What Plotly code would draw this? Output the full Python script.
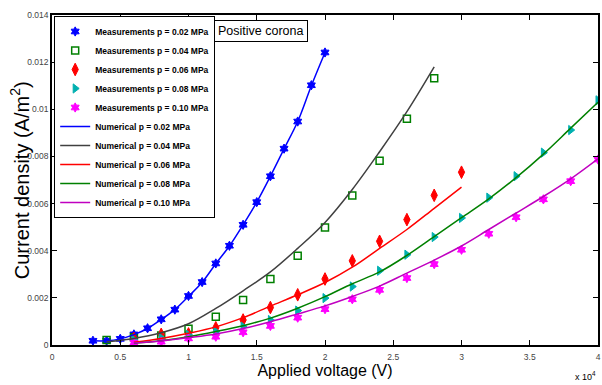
import plotly.graph_objects as go

# ---------------- data ----------------
x_m02 = [3000, 4000, 5000, 6000, 7000, 8000, 9000, 10000, 11000, 12000, 13000, 14000,
         15000, 16000, 17000, 18000, 19000, 20000]
y_m02 = [0.00018, 0.00018, 0.00026, 0.00045, 0.00071, 0.00109, 0.0015, 0.00208, 0.00267,
         0.00346, 0.00421, 0.0051, 0.00606, 0.00716, 0.00833, 0.00948, 0.01102, 0.01241]

x_m04 = [4000, 6000, 8000, 10000, 12000, 14000, 16000, 18000, 20000, 22000, 24000, 26000, 28000]
y_m04 = [0.00021, 0.00033, 0.0004, 0.00069, 0.0012, 0.00191, 0.0028, 0.00379, 0.00499,
         0.00634, 0.00782, 0.0096, 0.01132]

x_m06 = [6000, 8000, 10000, 12000, 14000, 16000, 18000, 20000, 22000, 24000, 26000, 28000, 30000]
y_m06 = [0.00028, 0.00045, 0.00047, 0.00073, 0.00106, 0.00159, 0.00213, 0.0028, 0.00357,
         0.0044, 0.00532, 0.00635, 0.00733]

x_m08 = [6000, 8000, 10000, 12000, 14000, 16000, 18000, 20000, 22000, 24000, 26000, 28000,
         30000, 32000, 34000, 36000, 38000, 40000]
y_m08 = [0.00022, 0.0003, 0.00043, 0.00057, 0.00078, 0.00106, 0.00146, 0.00199, 0.00248,
         0.00315, 0.00383, 0.00458, 0.00539, 0.00625, 0.00716, 0.00816, 0.00912, 0.01038]

x_m10 = [6000, 8000, 10000, 12000, 14000, 16000, 18000, 20000, 22000, 24000, 26000, 28000,
         30000, 32000, 34000, 36000, 38000, 40000]
y_m10 = [0.0001, 0.00014, 0.00028, 0.00035, 0.00054, 0.00081, 0.00116, 0.00152, 0.00194,
         0.00234, 0.00284, 0.00343, 0.00404, 0.00472, 0.00542, 0.00618, 0.00695, 0.00787]

x_n02 = [3000, 4000, 5000, 6000, 7000, 8000, 9000, 10000, 11000, 12000, 13000, 14000,
         15000, 16000, 17000, 18000, 19000, 20000]
y_n02 = [0.00018, 0.00018, 0.00026, 0.00044, 0.0007, 0.00108, 0.0015, 0.00206, 0.00266,
         0.00345, 0.0042, 0.0051, 0.00606, 0.00716, 0.00832, 0.00948, 0.011, 0.01241]

x_n04 = [4000, 6000, 8000, 10000, 12000, 14000, 16000, 18000, 20000, 22000, 24000, 26000, 28000]
y_n04 = [0.00014, 0.00028, 0.00052, 0.0009, 0.00155, 0.0023, 0.0031, 0.0041, 0.0052,
         0.0066, 0.0082, 0.0099, 0.0118]

x_n06 = [6000, 8000, 10000, 12000, 14000, 16000, 18000, 20000, 22000, 24000, 26000, 28000, 30000]
y_n06 = [0.00012, 0.00028, 0.0005, 0.00077, 0.00116, 0.00165, 0.00213, 0.00265, 0.0033,
         0.0041, 0.0049, 0.0058, 0.0067]

x_n08 = [6000, 8000, 10000, 12000, 14000, 16000, 18000, 20000, 22000, 24000, 26000, 28000,
         30000, 32000, 34000, 36000, 38000, 40000]
y_n08 = [0.00007, 0.00018, 0.00035, 0.00057, 0.00082, 0.00114, 0.00156, 0.00205, 0.0026,
         0.0031, 0.0038, 0.0046, 0.0054, 0.0062, 0.0071, 0.0081, 0.0092, 0.0103]

x_n10 = [6000, 8000, 10000, 12000, 14000, 16000, 18000, 20000, 22000, 24000, 26000, 28000,
         30000, 32000, 34000, 36000, 38000, 40000]
y_n10 = [0.00008, 0.00017, 0.00031, 0.00047, 0.0007, 0.00099, 0.00132, 0.00166, 0.00206,
         0.0025, 0.00305, 0.0036, 0.0042, 0.0049, 0.0056, 0.0063, 0.00705, 0.0079]

x_tickvals = [0, 5000, 10000, 15000, 20000, 25000, 30000, 35000, 40000]
x_ticktext = ["0", "0.5", "1", "1.5", "2", "2.5", "3", "3.5", "4"]
y_tickvals = [0, 0.002, 0.004, 0.006, 0.008, 0.01, 0.012, 0.014]
y_ticktext = ["0", "0.002", "0.004", "0.006", "0.008", "0.01", "0.012", "0.014"]

SANS = "Liberation Sans, Arial, sans-serif"

fig = go.Figure()

meas = [
    (x_m02, y_m02, "Measurements p = 0.02 MPa", "#0000ff", "hexagram", 7, 1),
    (x_m04, y_m04, "Measurements p = 0.04 MPa", "#008000", "square-open", 7, 1.5),
    (x_m06, y_m06, "Measurements p = 0.06 MPa", "#ff0000", "diamond-tall", 9, 1),
    (x_m08, y_m08, "Measurements p = 0.08 MPa", "#00b0b0", "triangle-right", 8, 1),
    (x_m10, y_m10, "Measurements p = 0.10 MPa", "#ff00ff", "hexagram", 7, 1),
]
for xs, ys, name, col, sym, sz, lw in meas:
    fig.add_trace(go.Scatter(x=xs, y=ys, mode="markers", name="<b>" + name + "</b>",
                             marker=dict(symbol=sym, size=sz, color=col,
                                         line=dict(color=col, width=lw))))

nums = [
    (x_n02, y_n02, "Numerical p = 0.02 MPa", "#0000ff"),
    (x_n04, y_n04, "Numerical p = 0.04 MPa", "#404040"),
    (x_n06, y_n06, "Numerical p = 0.06 MPa", "#ff0000"),
    (x_n08, y_n08, "Numerical p = 0.08 MPa", "#008000"),
    (x_n10, y_n10, "Numerical p = 0.10 MPa", "#c000c0"),
]
for xs, ys, name, col in nums:
    fig.add_trace(go.Scatter(x=xs, y=ys, mode="lines", name="<b>" + name + "</b>",
                             line=dict(color=col, width=1.5, shape="spline")))

axis_common = dict(showline=True, linecolor="black", linewidth=1.5, mirror="ticks",
                   ticks="inside", ticklen=5, tickcolor="black", showgrid=False,
                   zeroline=False, ticklabeloverflow="allow",
                   tickfont=dict(family=SANS, size=8.5, color="#444444"))

fig.update_xaxes(range=[0, 40000], tickvals=x_tickvals, ticktext=x_ticktext,
                 ticklabelstandoff=3,
                 title=dict(text="Applied voltage (V)",
                            font=dict(family=SANS, size=16, color="black"),
                            standoff=4),
                 **axis_common)
fig.update_yaxes(range=[0, 0.014], tickvals=y_tickvals, ticktext=y_ticktext,
                 **axis_common)

fig.update_layout(
    width=602, height=385,
    margin=dict(l=52, r=1, t=15, b=40),
    paper_bgcolor="white", plot_bgcolor="white",
    showlegend=True,
    legend=dict(x=0.004, y=0.997, xanchor="left", yanchor="top",
                bgcolor="white", bordercolor="black", borderwidth=1,
                font=dict(family=SANS, size=8.5, color="black"),
                itemwidth=30, tracegroupgap=0),
    annotations=[
        dict(text="Current density (A/m<sup>2</sup>)", xref="paper", yref="paper",
             x=-0.06, y=0.5, xanchor="center", yanchor="middle", textangle=-90,
             showarrow=False, font=dict(family=SANS, size=20, color="black")),
        dict(text="Positive corona", xref="paper", yref="paper", x=0.296, y=0.985,
             xanchor="left", yanchor="top", showarrow=False,
             font=dict(family=SANS, size=12.5, color="black"),
             bordercolor="black", borderwidth=1, borderpad=3, bgcolor="white"),
        dict(text="x 10<sup>4</sup>", xref="paper", yref="paper", x=1.0, y=-0.118,
             xanchor="right", yanchor="bottom", showarrow=False,
             font=dict(family=SANS, size=9, color="black")),
    ],
)

fig.write_html("out.html")
